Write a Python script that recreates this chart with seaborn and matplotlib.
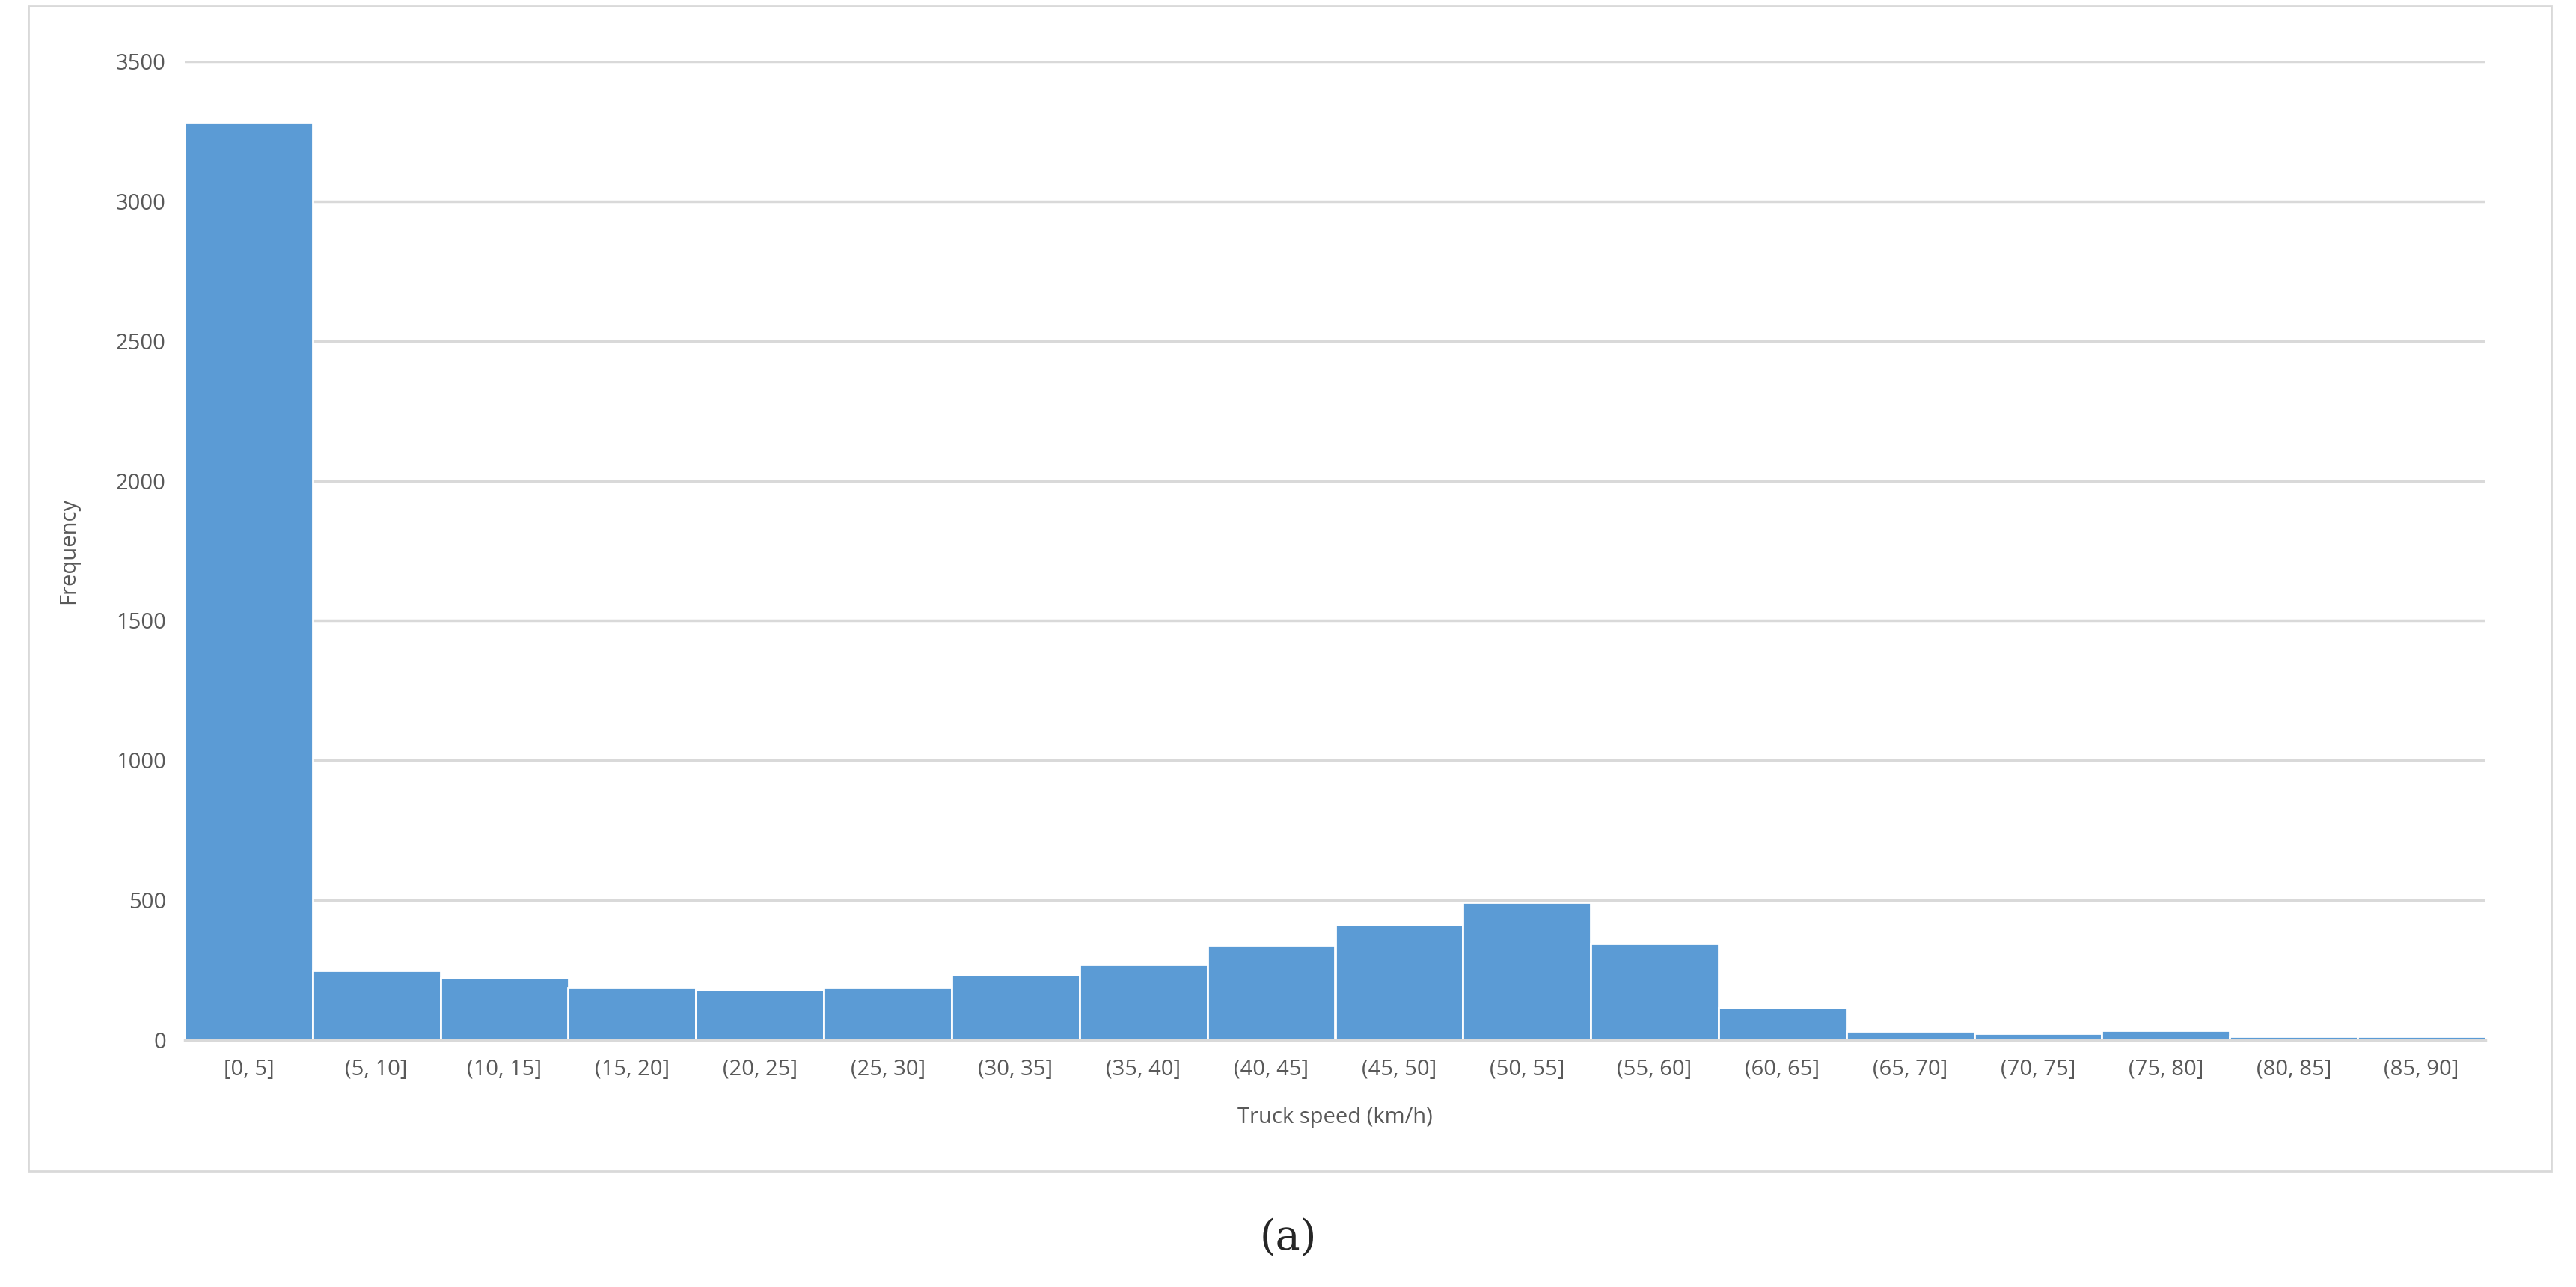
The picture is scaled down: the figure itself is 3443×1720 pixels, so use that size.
import matplotlib
matplotlib.use("Agg")
import matplotlib.pyplot as plt
import seaborn as sns
import pandas as pd
from matplotlib.patches import Rectangle

categories = ["[0, 5]", "(5, 10]", "(10, 15]", "(15, 20]", "(20, 25]", "(25, 30]",
              "(30, 35]", "(35, 40]", "(40, 45]", "(45, 50]", "(50, 55]", "(55, 60]",
              "(60, 65]", "(65, 70]", "(70, 75]", "(75, 80]", "(80, 85]", "(85, 90]"]
frequency = [3280, 250, 222, 186, 180, 186, 233, 271, 340, 413, 492, 346, 115, 31, 23, 36, 13, 13]
yticks = [0, 500, 1000, 1500, 2000, 2500, 3000, 3500]

sns.set_theme(style="white")
plt.rcParams['font.family'] = ['Open Sans', 'DejaVu Sans']

fig = plt.figure(figsize=(34.43, 17.2), dpi=100)
ax = fig.add_axes([247/3443, 1 - 1390/1720, (3322-247)/3443, (1390-82)/1720])
df = pd.DataFrame({"cat": categories, "freq": frequency})
sns.barplot(data=df, x="cat", y="freq", color="#5B9BD5", saturation=1, width=1.0,
            edgecolor="white", linewidth=2, ax=ax)
ax.set_ylim(0, 3500)
ax.set_xlim(-0.5, len(categories) - 0.5)
ax.set_yticks(yticks)
ax.yaxis.grid(True, color="#D9D9D9", linewidth=2.5)
ax.set_axisbelow(True)
for s in ["top", "right", "left"]:
    ax.spines[s].set_visible(False)
ax.spines["bottom"].set_color("#D9D9D9")
ax.spines["bottom"].set_linewidth(2.5)
ax.tick_params(axis="both", colors="#595959", labelsize=21, length=0, pad=18)
ax.set_xlabel("Truck speed (km/h)", fontsize=21, color="#595959", labelpad=25)
ax.set_ylabel("Frequency", fontsize=21, color="#595959", labelpad=35)

fig.patches.append(Rectangle((38/3443, 1 - 1565/1720), (3410-38)/3443, (1565-8)/1720,
                             transform=fig.transFigure, fill=False, edgecolor="#D9D9D9", linewidth=2))
fig.text(0.5, 1 - 1655/1720, "(", fontsize=40, ha="right", va="center", family="DejaVu Serif")
fig.text(0.5, 1 - 1655/1720, "(a)", fontsize=40, ha="center", va="center",
         family="DejaVu Serif", fontweight="normal", alpha=0)
t = fig.text(0.5, 1 - 1655/1720, "", fontsize=40)
fig.texts.remove(fig.texts[0])
fig.texts.remove(t)
fig.texts[0].set_alpha(1)
fig.texts[0].set_text("(a)")
fig.savefig("out.png", dpi=100)
